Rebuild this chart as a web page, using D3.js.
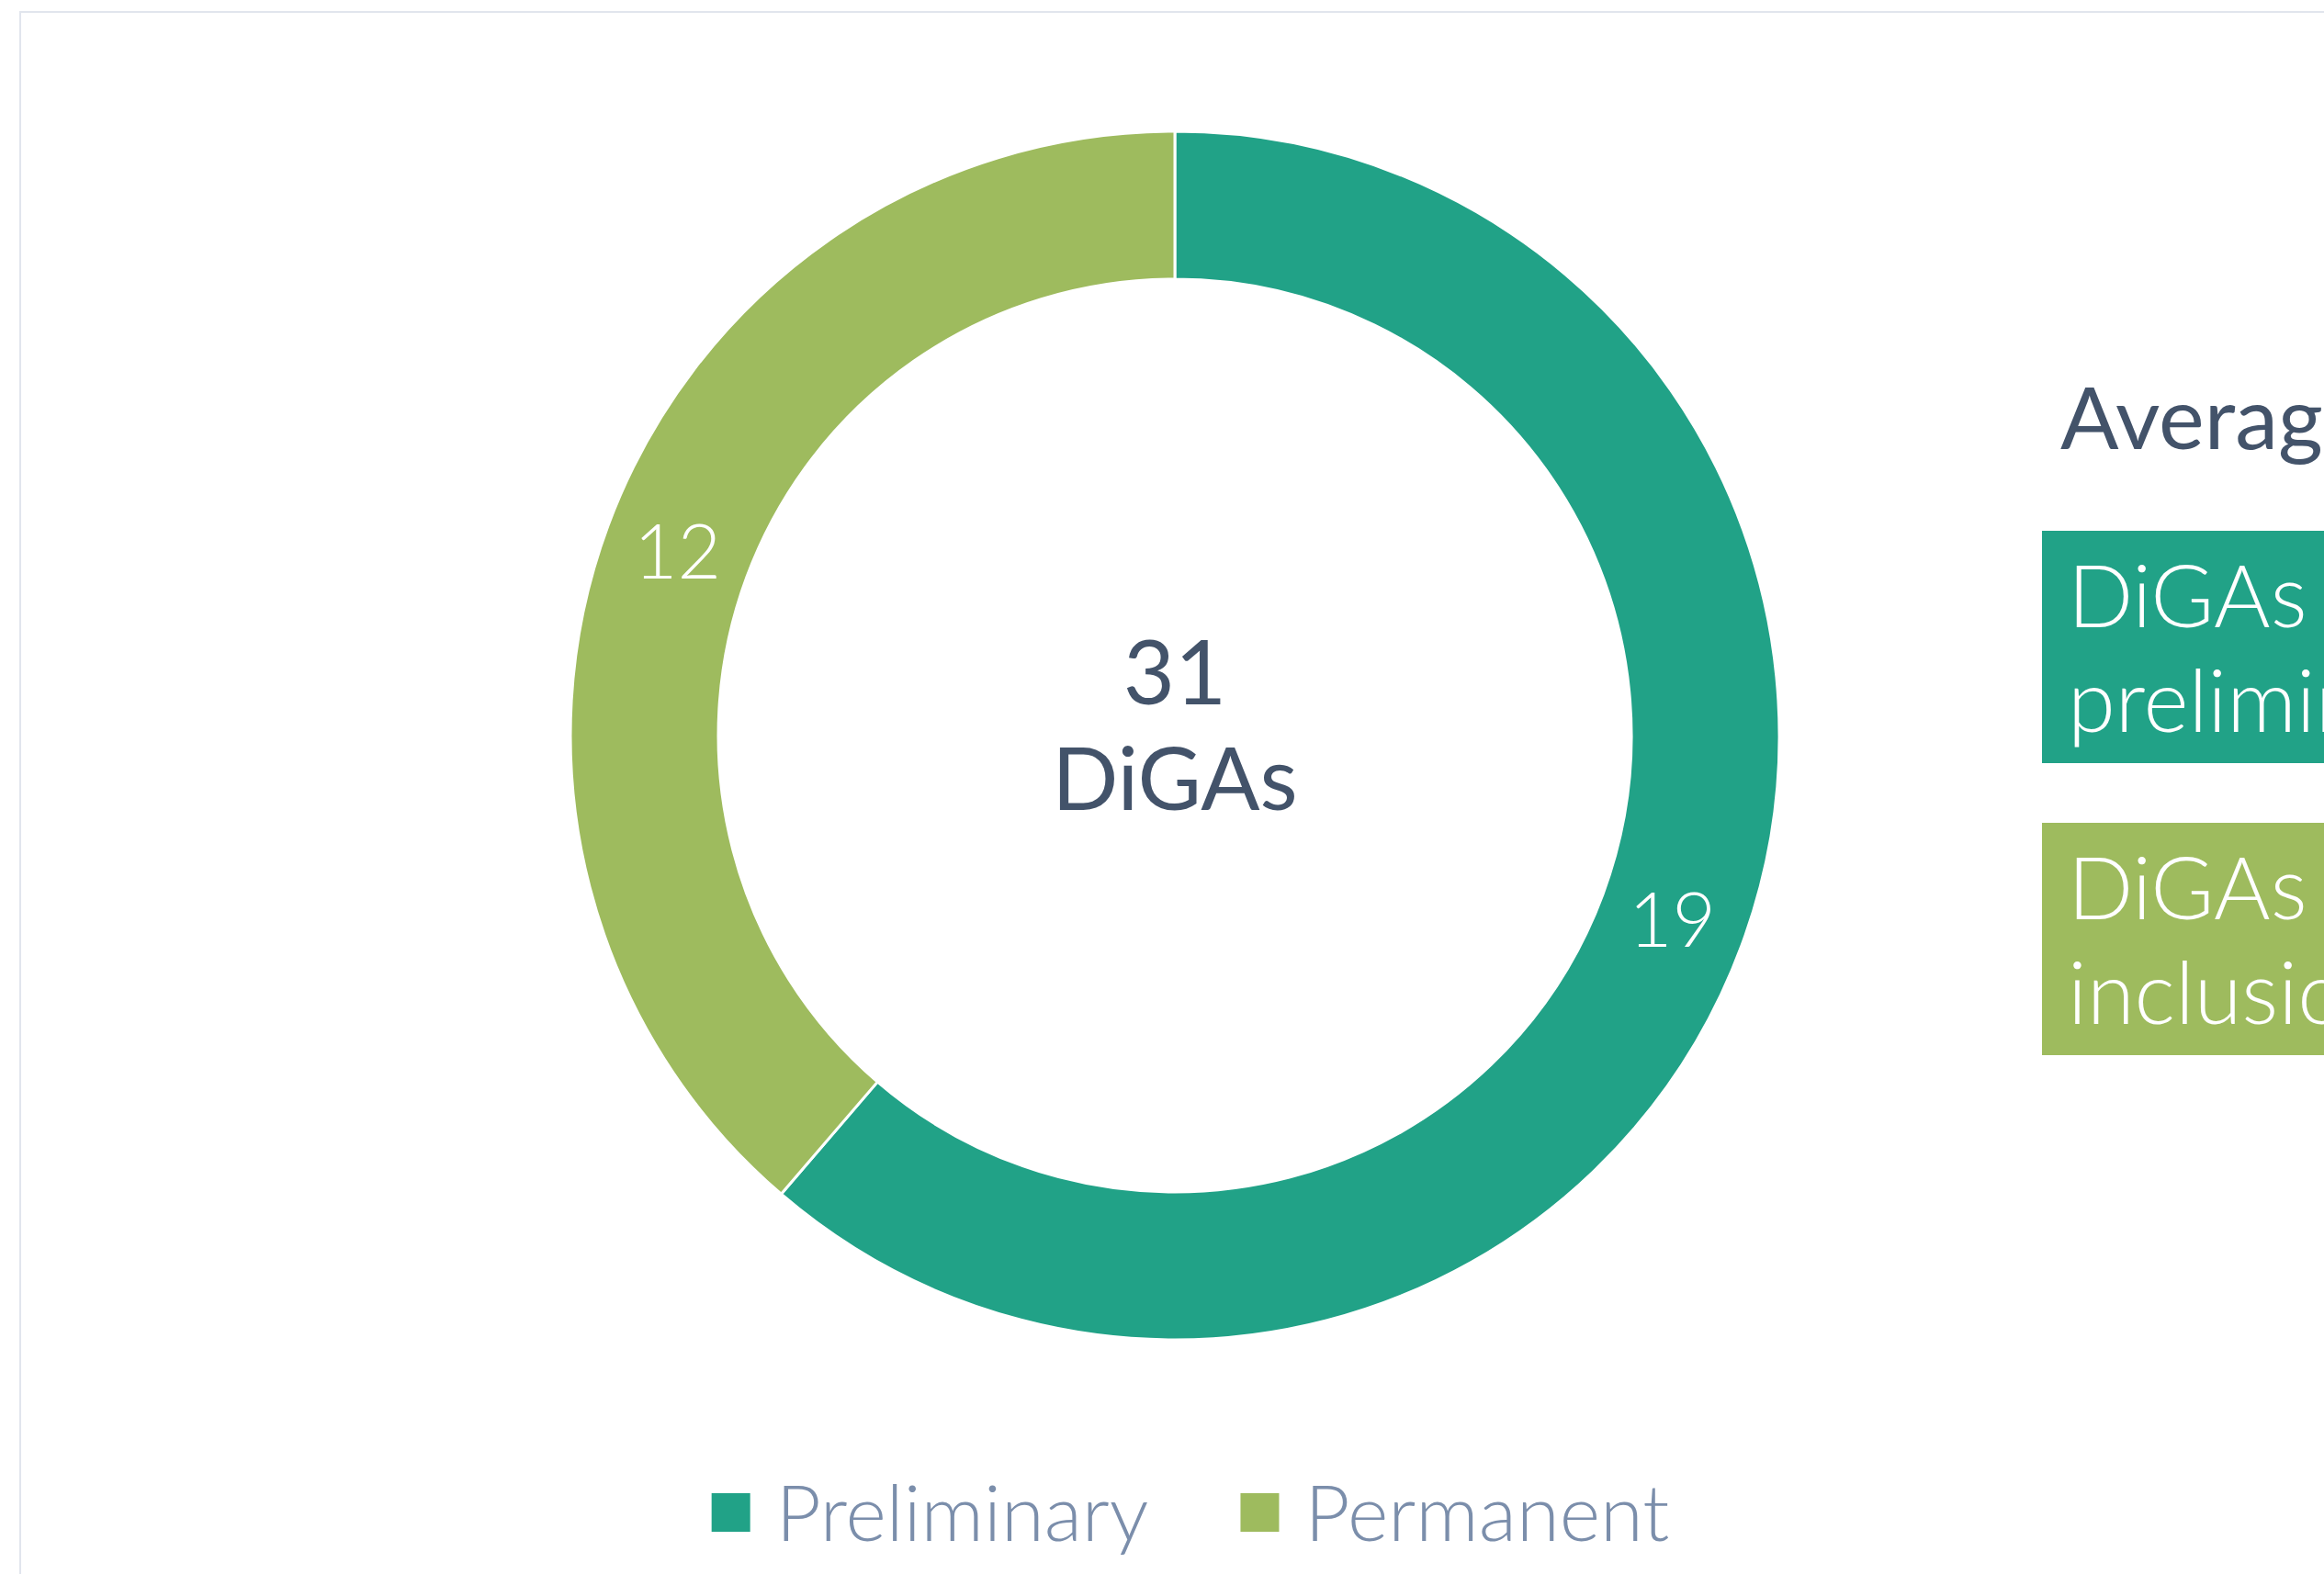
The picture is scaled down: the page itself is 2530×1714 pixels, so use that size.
<!DOCTYPE html>
<html>
<head>
<meta charset="utf-8">
<script src="https://cdn.jsdelivr.net/npm/d3@7"></script>
<style>
  html, body { margin: 0; padding: 0; background: #fff; overflow: hidden; }
  svg { display: block; font-family: Lato, "Open Sans", sans-serif; }
</style>
</head>
<body>
<div id="chart"></div>
<script>
// data
var categories = ["Preliminary", "Permanent"];
var values = [19, 12];
var colors = ["#21a287", "#9ebb5e"];
var unitLabel = "DiGAs";
var sideTitle = "Average time in the directory";
var sideBoxes = [
    ["DiGAs in", "preliminary listing"],
    ["DiGAs since", "inclusion"]
];

var width = 2530, height = 1714;
var cx = 1279, cy = 801;
var outerR = 658, innerR = 497;

var svg = d3.select("#chart")
    .append("svg")
    .attr("width", width)
    .attr("height", height);

// outer frame of the card (runs off the right edge)
svg.append("rect")
    .attr("x", 22).attr("y", 13)
    .attr("width", 2700).attr("height", 1900)
    .attr("fill", "none")
    .attr("stroke", "#e1e5ed")
    .attr("stroke-width", 2);

var pie = d3.pie().sort(null).value(function(d) { return d; });
var arc = d3.arc().innerRadius(innerR).outerRadius(outerR);
var arcs = pie(values);

var g = svg.append("g").attr("transform", "translate(" + cx + "," + cy + ")");

g.selectAll("path.slice")
    .data(arcs)
    .enter().append("path")
    .attr("class", "slice")
    .attr("d", arc)
    .attr("fill", function(d, i) { return colors[i]; })
    .attr("stroke", "#fff")
    .attr("stroke-width", 3);

g.selectAll("text.val")
    .data(arcs)
    .enter().append("text")
    .attr("class", "val")
    .attr("transform", function(d) { return "translate(" + arc.centroid(d) + ")"; })
    .attr("text-anchor", "middle")
    .attr("dy", "0.36em")
    .attr("fill", "#fff")
    .style("font-size", "82px")
    .style("font-weight", 300)
    .text(function(d) { return d.value; });

// centre total
var total = d3.sum(values);
g.append("text")
    .attr("text-anchor", "middle")
    .attr("y", -34)
    .attr("fill", "#43536a")
    .style("font-size", "97px")
    .text(total);
g.append("text")
    .attr("text-anchor", "middle")
    .attr("y", 81)
    .attr("fill", "#43536a")
    .style("font-size", "95px")
    .text(unitLabel);

// legend
var legend = svg.append("g");
var itemX = 0;
categories.forEach(function(c, i) {
    var item = legend.append("g").attr("transform", "translate(" + itemX + ",0)");
    item.append("rect")
        .attr("x", 0).attr("y", -52)
        .attr("width", 42).attr("height", 42)
        .attr("fill", colors[i]);
    var t = item.append("text")
        .attr("x", 70).attr("y", 0)
        .attr("fill", "#7b8eab")
        .style("font-size", "85px")
        .style("font-weight", 300)
        .text(c);
    itemX += 70 + t.node().getComputedTextLength() + 100;
});
var legendW = itemX - 100;
legend.attr("transform", "translate(" + (cx + 17 - legendW / 2) + ",1678)");

// side panel (cut off at the right edge)
svg.append("text")
    .attr("x", 2243).attr("y", 489)
    .attr("fill", "#43536a")
    .style("font-size", "94px")
    .text(sideTitle);

var boxTops = [578, 896];
sideBoxes.forEach(function(lines, i) {
    svg.append("rect")
        .attr("x", 2223).attr("y", boxTops[i])
        .attr("width", 900).attr("height", 253)
        .attr("fill", colors[i]);
    lines.forEach(function(l, j) {
        svg.append("text")
            .attr("x", 2251)
            .attr("y", boxTops[i] + 105 + j * 114)
            .attr("fill", "#fff")
            .style("font-size", "94px")
            .style("font-weight", 300)
            .text(l);
    });
});
</script>
</body>
</html>
